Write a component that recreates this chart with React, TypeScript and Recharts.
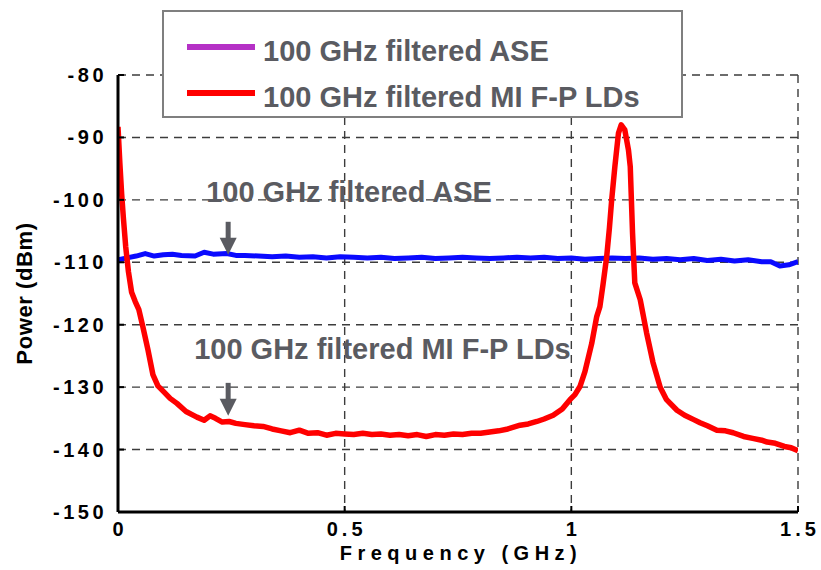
import React from 'react';
import { LineChart, Line, XAxis, YAxis, CartesianGrid, ReferenceDot } from 'recharts';

const FONT = '"Liberation Sans", Arial, Helvetica, sans-serif';
const INK = '#5a5b61';

const FREQ_TICKS = [0, 0.5, 1, 1.5];
const POWER_TICKS = [-150, -140, -130, -120, -110, -100, -90, -80];

// filtered ASE spectrum (GHz, dBm)
const ASE_FREQ = [
  0, 0.02, 0.04, 0.06, 0.08, 0.1, 0.12, 0.14, 0.17, 0.19, 0.21, 0.24, 0.26, 0.28, 0.31,
  0.34, 0.37, 0.4, 0.43, 0.46, 0.49, 0.52, 0.55, 0.58, 0.61, 0.64, 0.67, 0.7, 0.73, 0.76,
  0.79, 0.82, 0.85, 0.88, 0.91, 0.94, 0.97, 1.0, 1.03, 1.06, 1.09, 1.12, 1.15, 1.18, 1.21,
  1.24, 1.27, 1.3, 1.33, 1.36, 1.39, 1.42, 1.44, 1.46, 1.48, 1.5,
];
const ASE_POWER = [
  -109.6, -109.3, -109.0, -108.6, -109.0, -108.8, -108.7, -108.9, -109.0, -108.4, -108.7,
  -108.6, -108.9, -108.9, -109.0, -109.1, -109.0, -109.2, -109.1, -109.3, -109.1, -109.2,
  -109.3, -109.2, -109.4, -109.3, -109.2, -109.4, -109.3, -109.2, -109.3, -109.4, -109.3,
  -109.2, -109.3, -109.2, -109.4, -109.3, -109.5, -109.4, -109.3, -109.4, -109.3, -109.5,
  -109.4, -109.6, -109.4, -109.7, -109.5, -109.8, -109.6, -109.9, -109.9, -110.6, -110.4,
  -109.9,
];

// filtered MI F-P LD spectrum (GHz, dBm)
const LD_FREQ = [
  0, 0.004, 0.008, 0.012, 0.017, 0.023, 0.03, 0.038, 0.046, 0.055, 0.066, 0.077, 0.088,
  0.099, 0.115, 0.13, 0.15, 0.174, 0.19, 0.203, 0.215, 0.23, 0.245, 0.26, 0.28, 0.3, 0.32,
  0.34, 0.36, 0.38, 0.4, 0.42, 0.44, 0.46, 0.48, 0.5, 0.52, 0.54, 0.56, 0.58, 0.6, 0.62,
  0.64, 0.66, 0.68, 0.7, 0.72, 0.74, 0.76, 0.78, 0.8, 0.82, 0.84, 0.86, 0.887, 0.905,
  0.924, 0.94, 0.96, 0.98, 0.997, 1.008, 1.019, 1.03, 1.045, 1.056, 1.063, 1.07, 1.078,
  1.084, 1.089, 1.096, 1.104, 1.11, 1.118, 1.126, 1.13, 1.135, 1.14, 1.152, 1.166, 1.18,
  1.196, 1.21, 1.233, 1.25, 1.27, 1.284, 1.3, 1.321, 1.34, 1.357, 1.38, 1.4, 1.42, 1.432,
  1.45, 1.47, 1.485, 1.5,
];
const LD_POWER = [
  -88.3, -94.0, -99.0, -103.0, -107.5, -111.5, -114.8, -116.3, -117.6, -120.4, -124.0,
  -128.0, -129.8, -130.6, -131.8, -132.6, -133.9, -134.8, -135.3, -134.6, -135.0, -135.6,
  -135.5, -135.8, -136.0, -136.2, -136.3, -136.7, -137.0, -137.3, -136.9, -137.4, -137.3,
  -137.7, -137.4, -137.5, -137.6, -137.4, -137.6, -137.5, -137.7, -137.6, -137.8, -137.6,
  -137.9, -137.6, -137.7, -137.5, -137.6, -137.4, -137.4, -137.2, -137.0, -136.7, -136.1,
  -135.9, -135.5, -135.1, -134.5, -133.5, -132.0, -131.2, -129.9, -127.5, -123.0, -118.7,
  -117.1, -113.5, -109.1, -104.5, -100.0, -94.7, -89.3, -88.0, -88.8, -92.0, -94.7,
  -105.3, -113.3, -116.0, -121.3, -126.0, -130.0, -132.0, -133.7, -134.5, -135.2, -135.7,
  -136.2, -136.9, -137.0, -137.3, -137.9, -138.2, -138.5, -138.8, -139.0, -139.5, -139.7,
  -140.2,
];

const SERIES = [
  { name: '100 GHz filtered ASE', line: '#0a0aff', legend: '#b531c6' },
  { name: '100 GHz filtered MI F-P LDs', line: '#ff0000', legend: '#ff0000' },
];

// callouts: arrow tip in data coordinates, text offset from the tip
const CALLOUTS = [
  { f: 0.243, p: -108.8, text: '100 GHz filtered ASE', dx: -22, dy: -53 },
  { f: 0.243, p: -134.6, text: '100 GHz filtered MI F-P LDs', dx: -34, dy: -57 },
];

const aseData = ASE_FREQ.map((f, i) => ({ f, p: ASE_POWER[i] }));
const ldData = LD_FREQ.map((f, i) => ({ f, p: LD_POWER[i] }));

const TICK_FONT = { fontFamily: FONT, fontWeight: 700, fontSize: 20, fill: '#000' };

const LeftTick = (props: any) => {
  const { x, y, payload } = props;
  return (
    <g>
      <text x={x} y={y} dy={7} textAnchor="end" letterSpacing={3.5} {...TICK_FONT}>
        {payload.value}
      </text>
      <line x1={x + 11} x2={x + 17} y1={y} y2={y} stroke="#000" strokeWidth={2} />
    </g>
  );
};

const RightTick = (props: any) => {
  const { x, y } = props;
  return <line x1={x} x2={x - 6} y1={y} y2={y} stroke="#000" strokeWidth={2} />;
};

const BottomTick = (props: any) => {
  const { x, y, payload } = props;
  return (
    <g>
      <text x={x + 2} y={y + 24} textAnchor="middle" letterSpacing={4} {...TICK_FONT}>
        {payload.value}
      </text>
      <line x1={x} x2={x} y1={y} y2={y - 6} stroke="#000" strokeWidth={2} />
    </g>
  );
};

const Callout = (props: any) => {
  const { cx, cy, text, dx, dy } = props;
  return (
    <g>
      <text
        x={cx + dx}
        y={cy + dy}
        fontFamily={FONT}
        fontWeight={700}
        fontSize={29}
        fill={INK}
      >
        {text}
      </text>
      <line x1={cx} x2={cx} y1={cy - 33} y2={cy - 15} stroke={INK} strokeWidth={5} />
      <polygon points={`${cx - 8.5},${cy - 17} ${cx + 8.5},${cy - 17} ${cx},${cy}`} fill={INK} />
    </g>
  );
};

const PowerLabel = (props: any) => {
  const { viewBox } = props;
  const cy = viewBox.y + viewBox.height / 2;
  return (
    <text
      x={24}
      y={cy}
      transform={`rotate(-90, 24, ${cy})`}
      textAnchor="middle"
      dominantBaseline="central"
      fontFamily={FONT}
      fontWeight={700}
      fontSize={22}
      letterSpacing={0.6}
      fill="#000"
    >
      Power (dBm)
    </text>
  );
};

const FreqLabel = (props: any) => {
  const { viewBox } = props;
  const cx = viewBox.x + viewBox.width / 2;
  return (
    <text
      x={cx + 3}
      y={viewBox.y + 48}
      textAnchor="middle"
      letterSpacing={5.5}
      fontFamily={FONT}
      fontWeight={700}
      fontSize={20}
      fill="#000"
    >
      Frequency (GHz)
    </text>
  );
};

const LegendBox = () => (
  <svg
    width={521}
    height={108}
    style={{ position: 'absolute', left: 162, top: 10 }}
  >
    <rect x={1} y={1} width={519} height={106} fill="#fff" stroke="#7f7f7f" strokeWidth={2} />
    {SERIES.map((s, i) => (
      <g key={s.name}>
        <line x1={25} x2={93} y1={37 + i * 46} y2={37 + i * 46} stroke={s.legend} strokeWidth={6} />
        <text
          x={101}
          y={51 + i * 46}
          fontFamily={FONT}
          fontWeight={700}
          fontSize={29}
          fill={INK}
        >
          {s.name}
        </text>
      </g>
    ))}
  </svg>
);

export default function App() {
  return (
    <div style={{ position: 'absolute', left: 0, top: 0, width: 821, height: 570, background: '#fff' }}>
      <LineChart width={821} height={570} margin={{ top: 75, right: 23, left: 0, bottom: 0 }}>
        <CartesianGrid stroke="#3c3c3c" strokeWidth={1.4} strokeDasharray="8 6" />
        <XAxis
          dataKey="f"
          type="number"
          domain={[0, 1.5]}
          ticks={FREQ_TICKS}
          height={58}
          axisLine={{ stroke: '#000', strokeWidth: 3 }}
          tickLine={false}
          tickSize={0}
          tickMargin={0}
          tick={<BottomTick />}
          label={<FreqLabel />}
          allowDataOverflow
        />
        <XAxis
          xAxisId="top"
          orientation="top"
          type="number"
          domain={[0, 1.5]}
          ticks={FREQ_TICKS}
          height={0}
          axisLine={{ stroke: '#000', strokeWidth: 3 }}
          tickLine={false}
          tick={false}
        />
        <YAxis
          type="number"
          domain={[-150, -80]}
          ticks={POWER_TICKS}
          width={118}
          axisLine={{ stroke: '#000', strokeWidth: 3 }}
          tickLine={false}
          tickSize={0}
          tickMargin={11}
          tick={<LeftTick />}
          label={<PowerLabel />}
          allowDataOverflow
        />
        <YAxis
          yAxisId="right"
          orientation="right"
          type="number"
          domain={[-150, -80]}
          ticks={POWER_TICKS}
          width={0}
          axisLine={{ stroke: '#000', strokeWidth: 3 }}
          tickLine={false}
          tickSize={0}
          tickMargin={0}
          tick={<RightTick />}
        />
        <Line
          data={aseData}
          dataKey="p"
          name={SERIES[0].name}
          type="linear"
          stroke={SERIES[0].line}
          strokeWidth={5}
          strokeLinejoin="round"
          dot={false}
          isAnimationActive={false}
        />
        <Line
          data={ldData}
          dataKey="p"
          name={SERIES[1].name}
          type="linear"
          stroke={SERIES[1].line}
          strokeWidth={5.5}
          strokeLinejoin="round"
          dot={false}
          isAnimationActive={false}
        />
        {CALLOUTS.map((c) => (
          <ReferenceDot
            key={c.text}
            x={c.f}
            y={c.p}
            r={0}
            shape={(p: any) => <Callout {...p} text={c.text} dx={c.dx} dy={c.dy} />}
          />
        ))}
      </LineChart>
      <LegendBox />
    </div>
  );
}
